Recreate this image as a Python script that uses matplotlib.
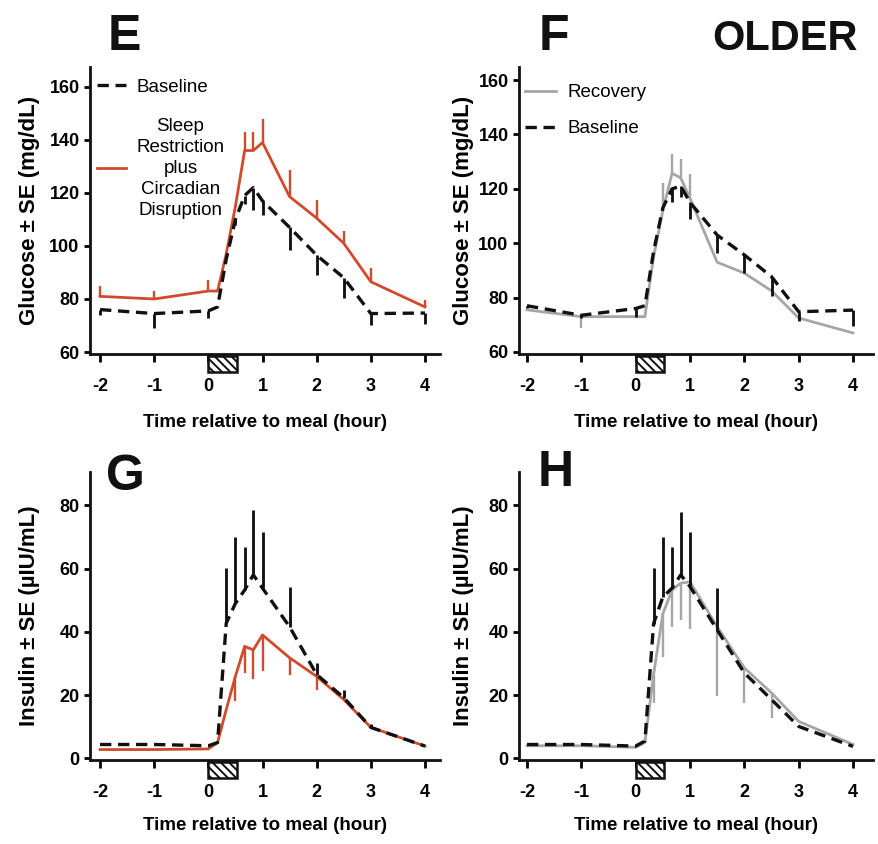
import numpy as np
import matplotlib
matplotlib.use("Agg")
import matplotlib.pyplot as plt
from matplotlib import font_manager
from matplotlib.patches import Rectangle
import matplotlib.transforms as mtransforms

names = {f.name for f in font_manager.fontManager.ttflist}
NARROW = "Liberation Sans Narrow" if "Liberation Sans Narrow" in names else "Liberation Sans"
WIDE = "Liberation Sans"

# ---------------- data ----------------
times = [-2, -1, 0, 0.17, 0.33, 0.5, 0.67, 0.83, 1, 1.5, 2, 2.5, 3, 4]
x_ticks = [-2, -1, 0, 1, 2, 3, 4]
glucose_ticks = [60, 80, 100, 120, 140, 160]
insulin_ticks = [0, 20, 40, 60, 80]
meal_start, meal_end = 0, 0.52

# Panel E (glucose): baseline vs sleep restriction + circadian disruption
e_baseline = [76, 74.5, 75.5, 77, 95, 110, 119, 122, 117, 107, 96.5, 88, 74.5, 74.7]
e_baseline_err = [-2, -5.5, -2.5, 0, 0, -2, -3, -8.5, -5.5, -8.5, -7.5, -7.5, -4.5, -4]
e_srcd = [81, 80, 83, 83, 97, 115, 136, 136, 139, 118.6, 110.5, 101, 86.5, 77]
e_srcd_err = [4, 3, 4, 0, 0, 0, 7, 7, 9, 10, 7, 4.5, 5, 2.5]

# Panel F (glucose): recovery vs baseline
f_recovery = [75.5, 73, 73, 73, 95, 112, 125.7, 124, 116.5, 93, 89, 82.5, 72.5, 67]
f_recovery_err = [0, -4, 0, 0, 0, 10, 7, 7, 9, 0, 0, 0, 0, 0]
f_baseline = [77, 73.5, 76, 77, 97, 113, 120, 121, 115, 103, 95.7, 87.7, 74.8, 75.4]
f_baseline_err = [-1, -1, -3, 0, 0, 0, -5, -4, -6, -6.5, -6.5, -7, -3.5, -6]

# Panel G (insulin): baseline vs sleep restriction + circadian disruption
g_baseline = [4.4, 4.4, 4.0, 5, 42.7, 49, 53.2, 58, 53.8, 41.6, 26.5, 19.2, 9.8, 3.9]
g_baseline_err = [0, 0, 0, 0, 17.5, 21, 13.6, 20.4, 17.8, 12.6, 3.5, 2.5, 1, 0]
g_srcd = [2.8, 2.8, 3, 5, 15.4, 26, 35.4, 34.3, 39, 31.8, 25.9, 18.6, 9.8, 3.9]
g_srcd_err = [0, 0, 0, 0, 0, -8, -8.4, -9.3, -11.5, -5.3, -4.2, 0, 0, 0]

# Panel H (insulin): recovery vs baseline
h_recovery = [4, 4, 3.5, 5, 26.5, 45.7, 53.2, 55.4, 55.8, 41.6, 28.6, 20.7, 11.7, 4.4]
h_recovery_err = [0, 0, 0, 0, -9, -13.5, -11.6, -11.6, -14.8, -22, -11, -7.8, 0, 0]
h_baseline = [4.4, 4.4, 3.9, 5.5, 42.6, 51, 53.8, 58, 54.3, 40.6, 27, 18.6, 10.1, 3.8]
h_baseline_err = [0, 0, 0, 0, 17.6, 19, 13, 19.9, 17.3, 13.2, 0, 0, 0, 0]

# ---------------- style ----------------
RED = "#cf4b2c"
GRAY = "#a6a6a6"
BLACK = "#111111"

plt.rcParams["font.family"] = [NARROW, "DejaVu Sans"]
plt.rcParams["font.weight"] = "bold"
plt.rcParams["hatch.linewidth"] = 1.4

W, H = 879, 844
fig = plt.figure(figsize=(W / 100, H / 100), dpi=100)

TICK_FS = 13
XLAB_FS = 13.5
LEG_FS = 13.5
LETTER_FS = 36


def px_rect(l, r, t, b):
    return [l / W, 1 - b / H, (r - l) / W, (b - t) / H]


def draw_series(ax, y, err, color, lw, dashed, z, label):
    x = np.array(times, dtype=float)
    y = np.array(y, dtype=float)
    e = np.array(err, dtype=float)
    if dashed:
        (ln,) = ax.plot(x, y, color=color, lw=lw, dashes=(3.4, 2.0), zorder=z, label=label,
                        dash_capstyle="butt")
    else:
        (ln,) = ax.plot(x, y, color=color, lw=lw, zorder=z, label=label)
    m = e != 0
    ax.vlines(x[m], y[m], y[m] + e[m], color=color, lw=lw * 0.85, zorder=z)
    return ln


def style_axes(ax, xlim, ylim, yticks, ylabel, xlabel_y, ylabel_x):
    ax.set_xlim(*xlim)
    ax.set_ylim(*ylim)
    for s in ("top", "right"):
        ax.spines[s].set_visible(False)
    for s in ("left", "bottom"):
        ax.spines[s].set_linewidth(2.0)
        ax.spines[s].set_color(BLACK)
    ax.set_xticks(x_ticks)
    ax.set_xticklabels([str(t) for t in x_ticks])
    ax.set_yticks(yticks)
    ax.tick_params(axis="x", direction="out", length=5.5, width=2.0, pad=12, labelsize=TICK_FS)
    ax.tick_params(axis="y", direction="out", length=4.5, width=2.0, pad=3, labelsize=TICK_FS)
    ax.set_xlabel("Time relative to meal (hour)", fontsize=XLAB_FS, fontweight="bold", va="center")
    ax.xaxis.set_label_coords(0.5, xlabel_y)
    ax.set_ylabel(ylabel, fontsize=16, fontweight="bold", family=WIDE, va="center")
    ax.yaxis.set_label_coords(ylabel_x, 0.5)
    trans = mtransforms.blended_transform_factory(ax.transData, ax.transAxes)
    ax.add_patch(Rectangle((meal_start, -0.062), meal_end - meal_start, 0.054, transform=trans,
                           clip_on=False, facecolor="white", edgecolor=BLACK, lw=1.8,
                           hatch="\\\\\\\\", zorder=6))


glu_label = "Glucose \u00b1 SE (mg/dL)"
ins_label = "Insulin \u00b1 SE (\u00b5IU/mL)"

# E
axE = fig.add_axes(px_rect(90, 440, 67, 354))
style_axes(axE, (-2.185, 4.277), (59.25, 167.5), glucose_ticks, glu_label, -0.237, -0.172)
lE_r = draw_series(axE, e_srcd, e_srcd_err, RED, 2.0, False, 3,
                   "Sleep\nRestriction\nplus\nCircadian\nDisruption")
lE_b = draw_series(axE, e_baseline, e_baseline_err, BLACK, 2.4, True, 4, "Baseline")
legE = axE.legend([lE_b, lE_r], [lE_b.get_label(), lE_r.get_label()], loc="upper left",
                  bbox_to_anchor=(0.02, 0.96), frameon=False, borderpad=0, borderaxespad=0,
                  handlelength=1.55, handletextpad=0.55, labelspacing=1.2,
                  prop={"family": NARROW, "size": LEG_FS, "weight": "normal"})
for t in legE.get_texts():
    t.set_multialignment("center")
    t.set_linespacing(1.3)

# F
axF = fig.add_axes(px_rect(519, 873, 67, 354))
style_axes(axF, (-2.147, 4.368), (59.26, 164.8), glucose_ticks, glu_label, -0.237, -0.158)
lF_r = draw_series(axF, f_recovery, f_recovery_err, GRAY, 2.0, False, 3, "Recovery")
lF_b = draw_series(axF, f_baseline, f_baseline_err, BLACK, 2.4, True, 4, "Baseline")
axF.legend([lF_r, lF_b], ["Recovery", "Baseline"], loc="upper left",
           bbox_to_anchor=(0.018, 0.94), frameon=False, borderpad=0, borderaxespad=0,
           handlelength=1.65, handletextpad=0.6, labelspacing=1.0,
           prop={"family": NARROW, "size": LEG_FS, "weight": "normal"})

# G
axG = fig.add_axes(px_rect(90, 440, 472, 760))
style_axes(axG, (-2.185, 4.277), (-0.5, 90.5), insulin_ticks, ins_label, -0.226, -0.172)
draw_series(axG, g_srcd, g_srcd_err, RED, 2.0, False, 3, "Sleep Restriction plus Circadian Disruption")
draw_series(axG, g_baseline, g_baseline_err, BLACK, 2.4, True, 4, "Baseline")

# H
axH = fig.add_axes(px_rect(519, 873, 472, 760))
style_axes(axH, (-2.147, 4.368), (-0.5, 90.5), insulin_ticks, ins_label, -0.226, -0.158)
draw_series(axH, h_recovery, h_recovery_err, GRAY, 2.0, False, 3, "Recovery")
draw_series(axH, h_baseline, h_baseline_err, BLACK, 2.4, True, 4, "Baseline")

# panel letters
def ftext(x, y, s, size=LETTER_FS):
    fig.text(x / W, 1 - y / H, s, ha="center", va="baseline", fontsize=size,
             fontweight="bold", family=NARROW, color=BLACK)

ftext(124, 50, "E")
ftext(554, 50, "F")
ftext(785, 50, "OLDER", size=30)
ftext(125, 490, "G")
ftext(556, 486, "H")

fig.savefig("out.png", dpi=100)
